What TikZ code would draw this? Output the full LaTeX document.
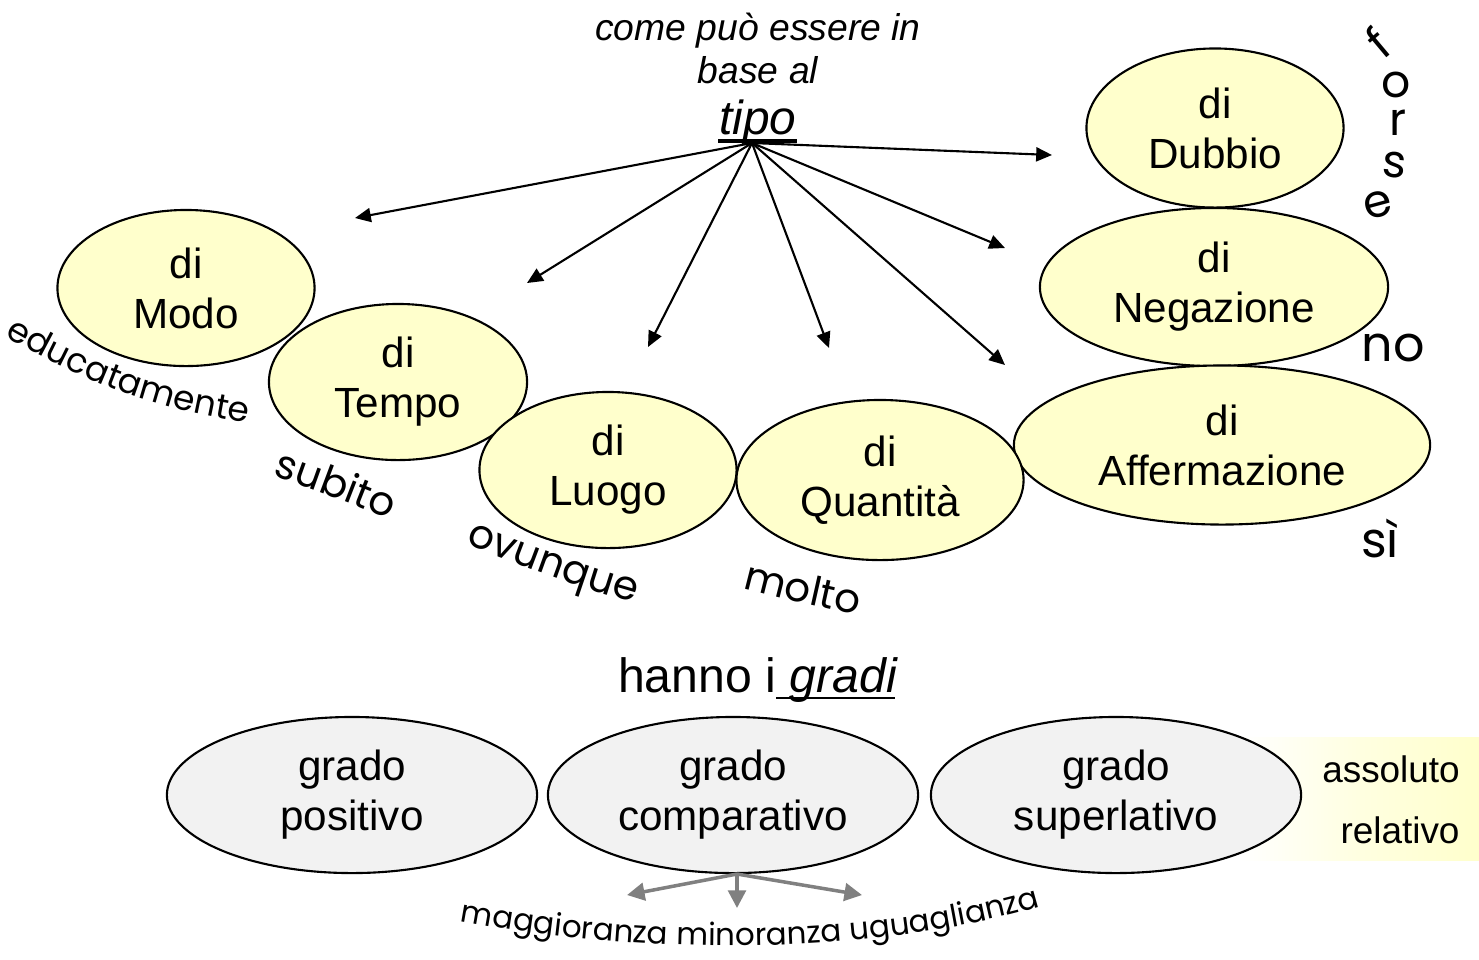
\documentclass[tikz,border=0pt]{standalone}
\usepackage{fontspec}
\setmainfont{Liberation Sans}
\newfontfamily\comicfont{Poppins}
\usetikzlibrary{arrows.meta,shapes.geometric,decorations.text}
\definecolor{paleyellow}{HTML}{FFFFCC}
\definecolor{palegray}{HTML}{F2F2F2}
\definecolor{arrowgray}{HTML}{808080}
\newcommand\handsmall{\comicfont\fontsize{8.8}{11}\selectfont}
\newcommand\handmid{\comicfont\fontsize{9.8}{12}\selectfont}
\newcommand\handbig{\comicfont\fontsize{11.5}{14}\selectfont}

\begin{document}
\begin{tikzpicture}[
 x=.01cm,y=-.01cm,
 line/.style={line width=.6pt,-{Triangle[length=4.5pt,width=4pt]}},
 soft/.style={line width=1pt,draw=arrowgray,-{Triangle[length=5pt,width=5pt]}},
 kind/.style={ellipse,draw,line width=.6pt,fill=paleyellow,inner sep=0pt,align=center,
  font=\fontsize{12}{14.2}\selectfont},
 grade/.style={kind,fill=palegray,minimum width=3.7cm,minimum height=1.56cm},
 hand/.style={font=\comicfont\fontsize{13}{16}\selectfont},
 curved/.style={decorate,decoration={text along path,text align=center,text={#1}}},
 every node/.style={inner sep=0pt}]
 \useasboundingbox (0,0) rectangle (1479,959);
 % Title over the fan of arrows.
 \node[align=center,font=\itshape\fontsize{10.6}{12.2}\selectfont] (title) at (758,48)
  {come può essere in\\base al};
 \node[anchor=base,font=\itshape\fontsize{13.6}{16}\selectfont] (tipo) at (758,134) {tipo};
 \draw[line width=.9pt] (718,141) -- (797,141);
 \coordinate (hub) at (752,143);
 % Kinds of adverb.
 \node[kind,minimum width=2.57cm,minimum height=1.56cm] (modo) at (186,288) {di\\Modo};
 \node[kind,minimum width=2.58cm,minimum height=1.56cm] (tempo) at (398,382) {di\\Tempo};
 \node[kind,minimum width=2.57cm,minimum height=1.56cm] (luogo) at (608,470) {di\\Luogo};
 \node[kind,minimum width=2.57cm,minimum height=1.59cm] (dubbio) at (1215,128) {di\\Dubbio};
 \node[kind,minimum width=3.48cm,minimum height=1.58cm] (negazione) at (1214,287) {di\\Negazione};
 \node[kind,minimum width=4.16cm,minimum height=1.59cm] (affermazione) at (1222,445) {di\\Affermazione};
 \node[kind,minimum width=2.87cm,minimum height=1.60cm] (quantita) at (880,480) {di\\Quantità};
 % Arrow ends.
 \coordinate (toModo) at (355,218);
 \coordinate (toTempo) at (527,283);
 \coordinate (toLuogo) at (648,347);
 \coordinate (toQuantita) at (829,348);
 \coordinate (toAffermazione) at (1005,365);
 \coordinate (toNegazione) at (1005,248);
 \coordinate (toDubbio) at (1052,155);
 \foreach \t in {toModo,toTempo,toLuogo,toQuantita,toAffermazione,toNegazione,toDubbio}
  \draw[line] (hub) -- (\t);
 % Examples in hand writing.
 \path[curved={|\handmid|educatamente}] (8,338) .. controls (90,385) and (160,410) .. (244,422);
 \path[curved={|\handbig|subito}] (262,472) .. controls (310,488) and (350,503) .. (400,524);
 \path[curved={|\handbig|ovunque}] (462,542) .. controls (520,565) and (570,585) .. (638,604);
 \path[curved={|\handbig|molto}] (728,584) .. controls (770,596) and (820,607) .. (872,618);
 \node[hand,font=\comicfont\fontsize{14}{17}\selectfont] (no) at (1393,348) {no};
 \node[hand,font=\comicfont\fontsize{14}{17}\selectfont] (si) at (1380,538) {sì};
 \foreach \l/\x/\y/\a in {f/1378/42/40,o/1396/85/0,r/1398/123/0,s/1394/165/-5,e/1378/205/15}
  \node[hand,rotate=\a] (forse\l) at (\x,\y) {\l};
 % Degrees.
 \node[anchor=base,font=\fontsize{13.7}{16}\selectfont] (gradi) at (758,692)
  {hanno i \textit{gradi}};
 \draw[line width=.8pt] (776,698) -- (895,698);
 \shade[left color=white,right color=paleyellow,middle color=paleyellow!60] (1240,737) rectangle (1479,860);
 \node[grade] (positivo) at (352,795) {grado\\positivo};
 \node[grade] (comparativo) at (733,795) {grado\\comparativo};
 \node[grade] (superlativo) at (1116,795) {grado\\superlativo};
 \node[font=\fontsize{10.5}{12}\selectfont] (assoluto) at (1391,769) {assoluto};
 \node[font=\fontsize{10.5}{12}\selectfont] (relativo) at (1400,830) {relativo};
 \coordinate (fork) at (737,874);
 \coordinate (toMagg) at (627,895);
 \coordinate (toMin) at (737,908);
 \coordinate (toUgu) at (862,895);
 \foreach \t in {toMagg,toMin,toUgu}
  \draw[soft] (fork) -- (\t);
 \path[curved={|\handsmall|maggioranza minoranza uguaglianza}]
  (445,918) .. controls (630,955) and (870,960) .. (1055,902);
\end{tikzpicture}
\end{document}
